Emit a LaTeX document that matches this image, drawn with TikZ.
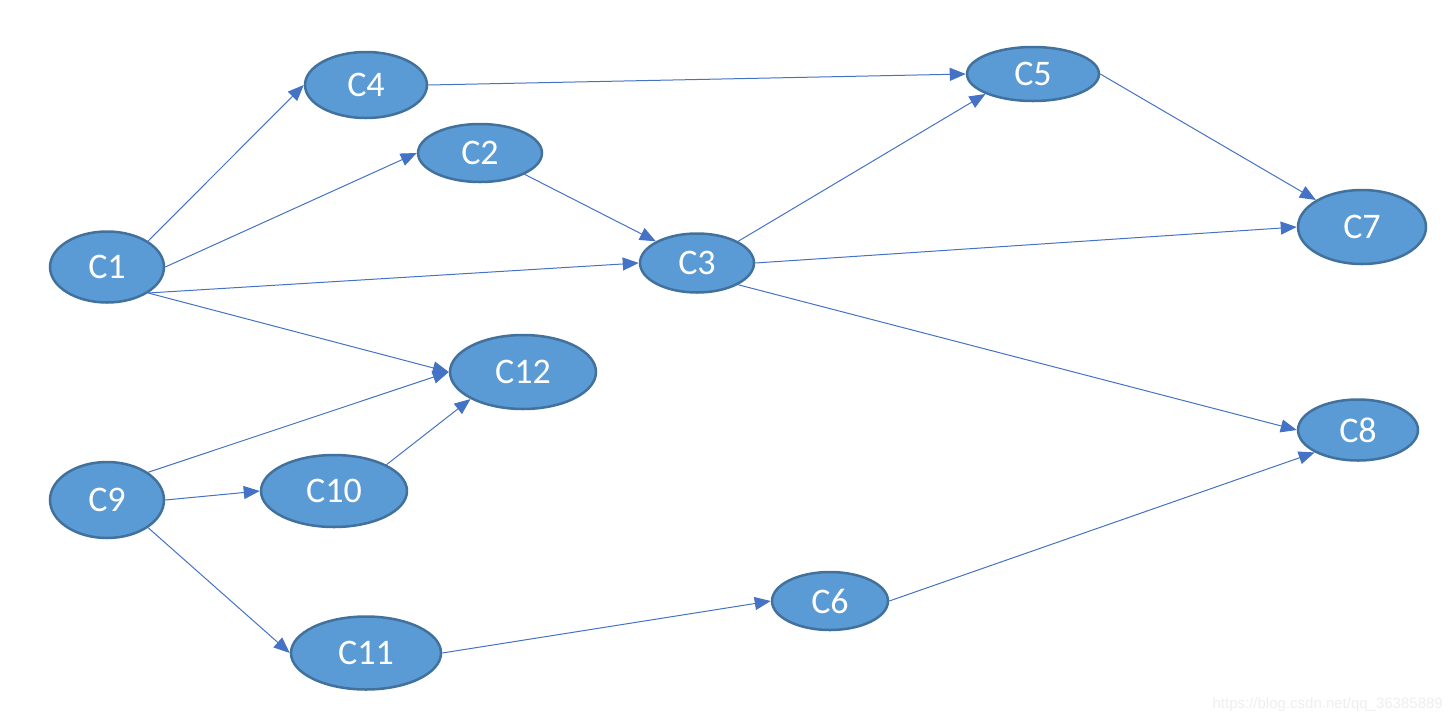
\documentclass[tikz,border=0pt]{standalone}
\usepackage{fontspec}
\setmainfont{Carlito}
\newfontfamily\wmfont{Liberation Sans}
\usetikzlibrary{arrows.meta,shapes.geometric}
\definecolor{nodefill}{HTML}{5B9BD5}
\definecolor{nodeline}{HTML}{41719C}
\definecolor{edgecol}{HTML}{4472C4}
\definecolor{wm}{HTML}{EEEEEE}
\tikzset{
  el/.style={ellipse, draw=nodeline, fill=nodefill, line width=2.5pt, inner sep=0pt,
    text=white, font=\fontsize{36}{36}\selectfont},
  conn/.style={draw=edgecol, line width=1pt, -{Triangle[length=16pt,width=13pt]}}
}
\begin{document}
\begin{tikzpicture}[x=1pt,y=-1pt]
\useasboundingbox (0,0) rectangle (1452,724);
\node[el, minimum width=114pt, minimum height=71pt] (c1) at (107,267) {C1};
\node[el, minimum width=122pt, minimum height=66pt] (c4) at (366,85) {C4};
\node[el, minimum width=124pt, minimum height=58pt] (c2) at (480,153) {C2};
\node[el, minimum width=114pt, minimum height=59pt] (c3) at (697,263) {C3};
\node[el, minimum width=132pt, minimum height=54pt] (c5) at (1033,74) {C5};
\node[el, minimum width=128pt, minimum height=74pt] (c7) at (1362,227) {C7};
\node[el, minimum width=146pt, minimum height=74pt] (c12) at (523,372) {C12};
\node[el, minimum width=120pt, minimum height=61pt] (c8) at (1358,430) {C8};
\node[el, minimum width=114pt, minimum height=76pt] (c9) at (107,500) {C9};
\node[el, minimum width=146pt, minimum height=72pt] (c10) at (334,491) {C10};
\node[el, minimum width=116pt, minimum height=58pt] (c6) at (830,601) {C6};
\node[el, minimum width=150pt, minimum height=73pt] (c11) at (366,653) {C11};
\draw[conn] (c1.north east) -- (c4.west);
\draw[conn] (c1.east) -- (c2.west);
\draw[conn] (c1.south east) -- (c3.west);
\draw[conn] (c1.south east) -- (c12.west);
\draw[conn] (c2.south east) -- (c3.north west);
\draw[conn] (c4.east) -- (c5.west);
\draw[conn] (c3.north east) -- (c5.south west);
\draw[conn] (c3.east) -- (c7.west);
\draw[conn] (c3.south east) -- (c8.west);
\draw[conn] (c5.east) -- (c7.north west);
\draw[conn] (c9.north east) -- (c12.west);
\draw[conn] (c10.north east) -- (c12.south west);
\draw[conn] (c9.east) -- (c10.west);
\draw[conn] (c9.south east) -- (c11.west);
\draw[conn] (c11.east) -- (c6.west);
\draw[conn] (c6.east) -- (c8.south west);
\node[anchor=east, text=wm, font=\fontsize{15}{15}\selectfont\wmfont, inner sep=0pt] (wmark) at (1443,705) {https://blog.csdn.net/qq\_36385889};
\end{tikzpicture}
\end{document}
